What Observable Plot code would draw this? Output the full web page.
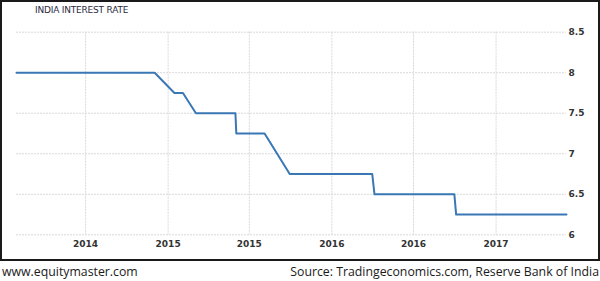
<!DOCTYPE html>
<html>
<head>
<meta charset="utf-8">
<script src="https://cdn.jsdelivr.net/npm/d3@7"></script>
<script src="https://cdn.jsdelivr.net/npm/@observablehq/plot@0.6"></script>
<style>
  html, body { margin: 0; padding: 0; background: #fff; }
  #wrap { position: relative; width: 600px; height: 281px; overflow: hidden; }
  #frame { position: absolute; left: 0; top: 0; width: 600px; height: 261px; box-sizing: border-box; border: 2px solid #1a1a1a; }
  #chart { position: absolute; left: 0; top: 0; }
  #title { position: absolute; left: 35px; top: 5px; font: 9px "DejaVu Sans", sans-serif; color: #2a2a40; letter-spacing: -0.2px; }
  .foot { position: absolute; top: 263px; font: 12.3px "Open Sans", sans-serif; color: #1a1a1a; white-space: nowrap; }
  #footL { left: 2px; }
  #footR { right: 1px; }
</style>
</head>
<body>
<div id="wrap">
  <div id="chart"></div>
  <div id="frame"></div>
  <div id="title">INDIA INTEREST RATE</div>
  <div class="foot" id="footL">www.equitymaster.com</div>
  <div class="foot" id="footR">Source: Tradingeconomics.com, Reserve Bank of India</div>
</div>
<script>
const dates = [
  "2014-01-28","2014-04-01","2014-06-03","2014-08-05","2014-09-30","2014-12-02",
  "2015-01-15","2015-02-03","2015-03-04","2015-04-07","2015-05-31","2015-06-02",
  "2015-08-04","2015-09-29","2015-12-01","2016-02-02","2016-03-31","2016-04-05",
  "2016-06-07","2016-08-09","2016-09-30","2016-10-04","2016-12-07","2017-02-08",
  "2017-04-06","2017-06-07"
];
const rates = [
  8, 8, 8, 8, 8, 8,
  7.75, 7.75, 7.5, 7.5, 7.5, 7.25,
  7.25, 6.75, 6.75, 6.75, 6.75, 6.5,
  6.5, 6.5, 6.5, 6.25, 6.25, 6.25,
  6.25, 6.25
];
const xTickDates = ["2014-07-01","2015-01-01","2015-07-01","2016-01-01","2016-07-01","2017-01-01"];
const xTickLabels = ["2014","2015","2015","2016","2016","2017"];
const yTicks = [6, 6.5, 7, 7.5, 8, 8.5];

const data = dates.map((d, i) => ({date: new Date(d + "T00:00:00Z"), rate: rates[i]}));
const xTicks = xTickDates.map(d => new Date(d + "T00:00:00Z"));
const labelOf = new Map(xTicks.map((d, i) => [+d, xTickLabels[i]]));

const chart = Plot.plot({
  width: 600,
  height: 261,
  marginLeft: 16,
  marginRight: 34,
  marginTop: 31.7,
  marginBottom: 26.7,
  style: {fontFamily: "DejaVu Sans, sans-serif", background: "transparent", overflow: "visible"},
  x: {type: "utc", domain: [data[0].date, data[data.length - 1].date]},
  y: {domain: [6, 8.5]},
  marks: [
    Plot.ruleY(yTicks, {stroke: "#d9d9d9", strokeWidth: 1, strokeDasharray: "2,1", strokeOpacity: 1}),
    Plot.ruleX(xTicks, {stroke: "#d9d9d9", strokeWidth: 1, strokeDasharray: "2,1", strokeOpacity: 1}),
    Plot.axisY({anchor: "right", ticks: yTicks, tickSize: 0, tickPadding: 2, tickFormat: d => String(d),
      fontSize: 9, fontWeight: "bold", fill: "#333", label: null}),
    Plot.axisX({ticks: xTicks, tickSize: 0, tickPadding: 6, tickFormat: d => labelOf.get(+d),
      fontSize: 9, fontWeight: "bold", fill: "#333", label: null}),
    Plot.line(data, {x: "date", y: "rate", stroke: "#3a78b5", strokeWidth: 2})
  ]
});
document.getElementById("chart").appendChild(chart);
</script>
</body>
</html>
